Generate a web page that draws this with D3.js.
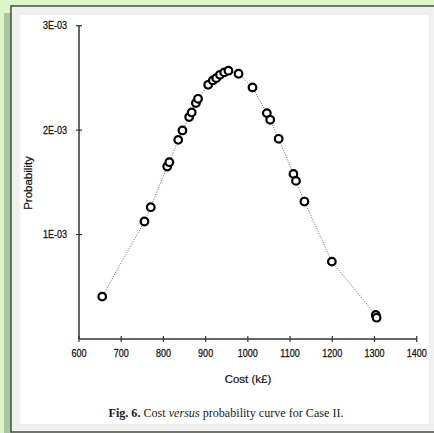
<!DOCTYPE html>
<html><head><meta charset="utf-8">
<script src="https://cdn.jsdelivr.net/npm/d3@7"></script>
<style>html,body{margin:0;padding:0;background:#d9f7c9;overflow:hidden}</style>
</head><body>
<script>
const costs = [655, 755, 770, 809, 814, 835, 845, 861, 867, 877, 882, 906, 917, 925, 934, 944, 954, 978, 1011, 1045, 1053, 1073, 1108, 1114, 1134, 1199, 1303, 1305];
const probs = [0.406e-3, 1.125e-3, 1.262e-3, 1.652e-3, 1.693e-3, 1.907e-3, 1.997e-3, 2.125e-3, 2.169e-3, 2.259e-3, 2.30e-3, 2.434e-3, 2.476e-3, 2.498e-3, 2.53e-3, 2.553e-3, 2.569e-3, 2.54e-3, 2.409e-3, 2.163e-3, 2.099e-3, 1.917e-3, 1.581e-3, 1.514e-3, 1.316e-3, 0.741e-3, 0.23e-3, 0.204e-3];
const xTicks = [600, 700, 800, 900, 1000, 1100, 1200, 1300, 1400];
const yTicks = [1e-3, 2e-3, 3e-3];
const yTickLabels = ["1E-03", "2E-03", "3E-03"];

const W = 434, H = 433;
const svg = d3.select("body").append("svg").attr("width", W).attr("height", H);
svg.append("rect").attr("width", W).attr("height", H).attr("fill", "#d9f7c9");
svg.append("rect").attr("x", 4).attr("y", 13).attr("width", 8).attr("height", H).attr("fill", "#adc3a5");
svg.append("rect").attr("x", 11).attr("y", 6).attr("width", W).attr("height", 426)
  .attr("fill", "#f0f0f0").attr("stroke", "#333").attr("stroke-width", 1.3);
svg.append("rect").attr("x", 20).attr("y", 15).attr("width", 409).attr("height", 409).attr("fill", "#fff");

const x = d3.scaleLinear().domain([600, 1400]).range([79, 416.7]);
const y = d3.scaleLinear().domain([0, 3e-3]).range([339, 25.7]);

const font = "'Liberation Sans', Arial, sans-serif";
const ink = "#111";

// x axis
const gx = svg.append("g").attr("transform", `translate(0,${y(0)})`);
gx.append("line").attr("x1", x(600)).attr("x2", x(1400)).attr("stroke", "#333").attr("stroke-width", 1.5);
gx.selectAll("line.t").data(xTicks).join("line").attr("class", "t")
  .attr("x1", d => x(d)).attr("x2", d => x(d)).attr("y1", -3).attr("y2", 3)
  .attr("stroke", "#333").attr("stroke-width", 1.2);
gx.selectAll("text").data(xTicks).join("text")
  .attr("x", d => x(d)).attr("y", 18).attr("text-anchor", "middle")
  .attr("font-family", font).attr("font-size", 10.5).attr("fill", ink)
  .attr("stroke", ink).attr("stroke-width", 0.25)
  .attr("transform", d => `translate(${x(d)},0) scale(0.86,1) translate(${-x(d)},0)`)
  .text(d => d);

// y axis
const gy = svg.append("g").attr("transform", `translate(${x(600)},0)`);
gy.append("line").attr("y1", y(0)).attr("y2", y(3e-3)).attr("stroke", "#333").attr("stroke-width", 1.5);
gy.selectAll("line.t").data(yTicks).join("line").attr("class", "t")
  .attr("y1", d => y(d)).attr("y2", d => y(d)).attr("x1", -3).attr("x2", 3)
  .attr("stroke", "#333").attr("stroke-width", 1.2);
gy.selectAll("text").data(yTicks).join("text")
  .attr("x", -12).attr("y", d => y(d) + 3.7).attr("text-anchor", "end")
  .attr("font-family", font).attr("font-size", 10.5).attr("fill", ink)
  .attr("stroke", ink).attr("stroke-width", 0.25)
  .attr("transform", d => `translate(-12,0) scale(0.86,1) translate(12,0)`)
  .text((d, i) => yTickLabels[i]);

svg.append("text").attr("x", 248).attr("y", 383).attr("text-anchor", "middle")
  .attr("font-family", font).attr("font-size", 11.5).attr("fill", ink)
  .attr("stroke", ink).attr("stroke-width", 0.2).text("Cost (k£)");
svg.append("text").attr("transform", "translate(32,183) rotate(-90)").attr("text-anchor", "middle")
  .attr("font-family", font).attr("font-size", 11.5).attr("fill", ink)
  .attr("stroke", ink).attr("stroke-width", 0.2).text("Probability");

// caption
const cap = svg.append("text").attr("x", 226).attr("y", 417).attr("text-anchor", "middle")
  .attr("font-family", "'Liberation Serif', 'Times New Roman', serif").attr("font-size", 13).attr("fill", "#1a1a1a");
cap.append("tspan").attr("font-weight", "bold").text("Fig. 6.");
cap.append("tspan").text("  Cost ");
cap.append("tspan").attr("font-style", "italic").text("versus");
cap.append("tspan").text(" probability curve for Case II.");
cap.attr("textLength", 235).attr("lengthAdjust", "spacingAndGlyphs");

// data
const pts = costs.map((c, i) => [c, probs[i]]);
svg.append("path").datum(pts)
  .attr("d", d3.line().x(d => x(d[0])).y(d => y(d[1])))
  .attr("fill", "none").attr("stroke", "#555").attr("stroke-width", 0.9)
  .attr("stroke-dasharray", "1,1.5");
svg.selectAll("circle").data(pts).join("circle")
  .attr("cx", d => x(d[0])).attr("cy", d => y(d[1])).attr("r", 3.8)
  .attr("fill", "#fff").attr("stroke", "#000").attr("stroke-width", 2.2);
</script>
</body></html>
